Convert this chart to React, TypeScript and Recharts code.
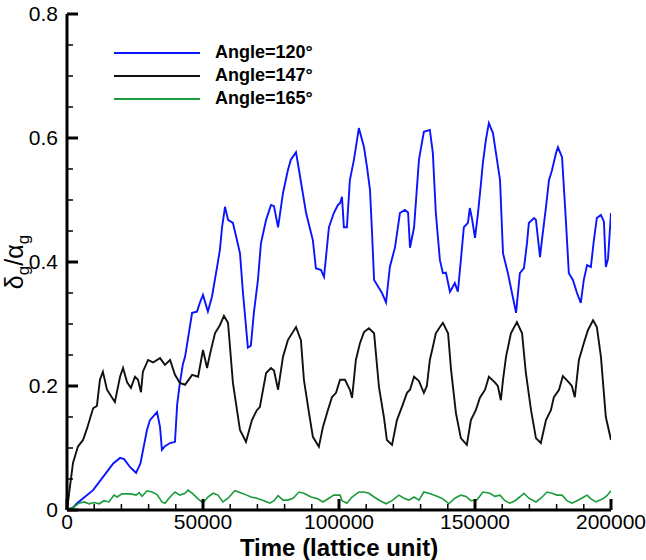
import { LineChart, Line, XAxis, YAxis } from 'recharts';

// Angle = 120°
const blueTime = [
  0, 2000, 3700, 9600, 13200, 17000, 19500, 21000, 23200, 25400, 27000, 29400, 30500, 33100, 34200, 34900,
  36000, 37900, 39700, 40500, 41500, 42600, 43400, 46000, 47800, 48900, 50000, 51800, 53300, 55100, 56200,
  57000, 58100, 59200, 61000, 62500, 63600, 64700, 66500, 67600, 68700, 70200, 71300, 73200, 75000, 76100,
  77600, 79400, 81200, 82300, 84200, 85300, 87900, 90400, 91500, 93400, 94500, 96300, 98100, 99600, 100400,
  101100, 101800, 102900, 104000, 105500, 107300, 109200, 110300, 111400, 112100, 112900, 114700, 115800,
  117300, 118700, 120600, 122400, 124200, 125400, 126100, 127600, 129400, 131200, 133400, 134500, 135600,
  137100, 138200, 139300, 140800, 142600, 143700, 144800, 145900, 147400, 148100, 148900, 150000, 151100,
  152200, 152900, 154000, 155100, 156600, 157700, 159200, 160300, 162100, 163600, 165100, 166500, 168000,
  169100, 169800, 171700, 172400, 173900, 174600, 176100, 177200, 178300, 179800, 180500, 182000, 183400,
  184500, 186000, 187500, 188900, 190000, 191200, 192600, 193700, 194800, 196300, 197400, 198100, 198900, 200000,
];
const blueValue = [
  0, 0.003, 0.011, 0.032, 0.053, 0.075, 0.084, 0.082, 0.069, 0.06, 0.075, 0.129, 0.145, 0.158, 0.134, 0.097,
  0.103, 0.108, 0.11, 0.17, 0.205, 0.235, 0.247, 0.318, 0.32, 0.335, 0.347, 0.32, 0.344, 0.39, 0.419,
  0.456, 0.489, 0.468, 0.463, 0.435, 0.414, 0.35, 0.262, 0.265, 0.318, 0.371, 0.43, 0.468, 0.492, 0.49,
  0.456, 0.511, 0.548, 0.565, 0.577, 0.548, 0.479, 0.435, 0.39, 0.387, 0.376, 0.456, 0.479, 0.492, 0.495,
  0.505, 0.456, 0.456, 0.532, 0.565, 0.616, 0.585, 0.553, 0.516, 0.452, 0.371, 0.358, 0.35,
  0.335, 0.392, 0.424, 0.479, 0.484, 0.48, 0.423, 0.456, 0.565, 0.61, 0.613, 0.576, 0.479,
  0.403, 0.382, 0.383, 0.352, 0.366, 0.352, 0.403, 0.456, 0.463, 0.487, 0.47, 0.439, 0.479,
  0.527, 0.56, 0.597, 0.624, 0.608, 0.576, 0.532, 0.414, 0.382, 0.35, 0.318, 0.382, 0.39,
  0.43, 0.463, 0.471, 0.468, 0.408, 0.435, 0.489, 0.532, 0.548, 0.576, 0.585, 0.569, 0.468,
  0.382, 0.371, 0.35, 0.334, 0.371, 0.395, 0.392, 0.435, 0.471, 0.476, 0.465, 0.392, 0.405, 0.479,
];

// Angle = 147°
const blackTime = [
  0, 2200, 4000, 5900, 7400, 9600, 11000, 12100, 13200, 14700, 17600, 19500, 20600, 22100, 23500, 25000,
  26100, 27200, 27900, 29800, 31600, 34200, 36000, 37900, 39700, 41500, 43400, 46000, 48200, 50000, 51500,
  52600, 54400, 56200, 57700, 59200, 61000, 63600, 65800, 68000, 69800, 70900, 73200, 75000, 76100, 77600,
  79400, 81200, 84200, 86000, 87100, 89000, 90400, 92600, 94100, 95900, 97400, 98900, 100400, 102200,
  104000, 104800, 106200, 107700, 109200, 111000, 112900, 114700, 116500, 117600, 119500, 121300, 123100,
  125000, 126100, 127600, 129400, 131200, 132300, 133400, 134500, 135600, 137100, 138200, 140100, 141200,
  143000, 144800, 147000, 148500, 150300, 151800, 153700, 155100, 157300, 158400, 159500, 160300, 161400,
  163200, 165400, 167300, 168700, 170600, 172400, 174200, 176100, 177900, 179000, 180900, 182300, 184500,
  185600, 186700, 188200, 190000, 191500, 193400, 194800, 196300, 198100, 200000,
];
const blackValue = [
  0, 0.076, 0.102, 0.113, 0.132, 0.164, 0.168, 0.21, 0.223, 0.194, 0.174, 0.215, 0.229, 0.206, 0.197, 0.215,
  0.21, 0.19, 0.223, 0.242, 0.238, 0.245, 0.234, 0.242, 0.218, 0.205, 0.202, 0.218, 0.215, 0.258, 0.229,
  0.252, 0.285, 0.298, 0.313, 0.302, 0.205, 0.129, 0.11, 0.145, 0.161, 0.166, 0.221, 0.229, 0.225, 0.194,
  0.247, 0.274, 0.295, 0.274, 0.21, 0.156, 0.118, 0.102, 0.134, 0.161, 0.182, 0.189, 0.21, 0.21,
  0.194, 0.181, 0.242, 0.269, 0.287, 0.293, 0.285, 0.198, 0.15, 0.113, 0.105, 0.145, 0.166,
  0.189, 0.194, 0.215, 0.208, 0.189, 0.2, 0.242, 0.263, 0.285, 0.295, 0.302, 0.285, 0.226,
  0.156, 0.116, 0.105, 0.145, 0.161, 0.181, 0.194, 0.215, 0.206, 0.2, 0.177, 0.21, 0.247,
  0.285, 0.303, 0.285, 0.221, 0.161, 0.116, 0.108, 0.145, 0.161, 0.182, 0.194, 0.216, 0.206,
  0.2, 0.182, 0.242, 0.269, 0.29, 0.306, 0.295, 0.247, 0.15, 0.113,
];

// Angle = 165°
const greenTime = [
  0, 1000, 2600, 4400, 6300, 8100, 10000, 11800, 13600, 15400, 17300, 18400, 20200, 23500, 25400, 26500,
  27600, 29400, 31300, 33100, 34900, 36000, 37900, 39700, 41500, 43400, 44500, 46300, 48200, 50000, 51800,
  53700, 55500, 57300, 59200, 61700, 64300, 66100, 67600, 69800, 72400, 74600, 76100, 77600, 79400, 81200,
  83100, 85300, 87100, 89700, 92200, 94100, 96300, 98100, 100400, 101100, 102900, 104800, 107300, 109200,
  111000, 112900, 115100, 117300, 119500, 122000, 123900, 125700, 127600, 129400, 131200, 133000, 134800,
  136700, 138200, 140400, 142600, 144800, 146700, 148500, 150700, 152900, 155500, 157300, 159200, 161000,
  162800, 164700, 167300, 168000, 169800, 172400, 174200, 176500, 178300, 180100, 182000, 183800, 185600,
  187500, 190000, 191200, 192600, 194500, 197000, 198500, 200000,
];
const greenValue = [
  0, 0.003, 0.005, 0.011, 0.013, 0.01, 0.012, 0.01, 0.015, 0.013, 0.024, 0.021, 0.026, 0.026, 0.024, 0.028,
  0.022, 0.031, 0.029, 0.025, 0.013, 0.011, 0.021, 0.029, 0.024, 0.027, 0.032, 0.026, 0.018, 0.011, 0.021,
  0.027, 0.024, 0.013, 0.019, 0.031, 0.027, 0.024, 0.021, 0.019, 0.015, 0.011, 0.015, 0.023, 0.016, 0.016,
  0.019, 0.029, 0.027, 0.021, 0.018, 0.013, 0.019, 0.024, 0.024, 0.015, 0.011, 0.021, 0.029, 0.029,
  0.027, 0.021, 0.015, 0.01, 0.015, 0.024, 0.019, 0.016, 0.021, 0.016, 0.029, 0.027, 0.024,
  0.021, 0.018, 0.01, 0.019, 0.024, 0.022, 0.015, 0.016, 0.029, 0.027, 0.022, 0.024, 0.015,
  0.011, 0.015, 0.024, 0.027, 0.019, 0.013, 0.019, 0.029, 0.027, 0.024, 0.024, 0.015, 0.011,
  0.015, 0.021, 0.024, 0.018, 0.013, 0.018, 0.023, 0.031,
];

const seriesNames = ['Angle=120°', 'Angle=147°', 'Angle=165°'];
const seriesColors = ['#0a14ff', '#111111', '#1a9a38'];

const xTicks = [
  0, 10000, 20000, 30000, 40000, 50000, 60000, 70000, 80000, 90000, 100000, 110000, 120000, 130000, 140000,
  150000, 160000, 170000, 180000, 190000, 200000,
];
const xLabels = [0, 50000, 100000, 150000, 200000];
const yTicks = [0, 0.05, 0.1, 0.15, 0.2, 0.25, 0.3, 0.35, 0.4, 0.45, 0.5, 0.55, 0.6, 0.65, 0.7, 0.75, 0.8];
const yLabels = [0, 0.2, 0.4, 0.6, 0.8];

const FONT = '"Liberation Sans", Arial, sans-serif';

const toPoints = (time: number[], value: number[]) => time.map((t, i) => ({ t, v: value[i] }));
const series = [
  toPoints(blueTime, blueValue),
  toPoints(blackTime, blackValue),
  toPoints(greenTime, greenValue),
];

const isLabel = (list: number[], v: number) => list.some((l) => Math.abs(l - v) < 1e-9);

// ticks point into the plot area; only major ticks carry a label
const XTick = (props: any) => {
  const { x, y, payload } = props;
  const major = isLabel(xLabels, payload.value);
  return (
    <g>
      <line x1={x} y1={y} x2={x} y2={y - (major ? 11 : 6)} stroke="#000" strokeWidth={major ? 3 : 1.5} />
      {major && (
        <text x={x} y={y + 19} textAnchor="middle" fontSize={21} fontFamily={FONT} fill="#000">
          {payload.value}
        </text>
      )}
    </g>
  );
};

const YTick = (props: any) => {
  const { x, y, payload } = props;
  const major = isLabel(yLabels, payload.value);
  return (
    <g>
      <line x1={x} y1={y} x2={x + (major ? 11 : 6)} y2={y} stroke="#000" strokeWidth={major ? 3 : 1.5} />
      {major && (
        <text x={x - 9} y={y + 7} textAnchor="end" fontSize={21} fontFamily={FONT} fill="#000">
          {String(Math.round(payload.value * 10) / 10)}
        </text>
      )}
    </g>
  );
};

const YTitle = () => (
  <text transform="translate(23,262) rotate(-90)" textAnchor="middle" fontSize={25} fontFamily={FONT} fill="#000">
    δ
    <tspan dy={6} fontSize={17}>g</tspan>
    <tspan dy={-6}>/α</tspan>
    <tspan dy={6} fontSize={17}>g</tspan>
  </text>
);

const XTitle = () => (
  <text x={339} y={556} textAnchor="middle" fontSize={24} fontWeight="bold" fontFamily={FONT} fill="#000">
    Time (lattice unit)
  </text>
);

const LegendBox = () => (
  <div style={{ position: 'absolute', left: 114, top: 41, fontFamily: FONT }}>
    {seriesNames.map((name, i) => (
      <div key={name} style={{ display: 'flex', alignItems: 'center', height: 23 }}>
        <svg width={86} height={4} style={{ display: 'block' }}>
          <line x1={0} y1={2} x2={86} y2={2} stroke={seriesColors[i]} strokeWidth={2} />
        </svg>
        <span style={{ marginLeft: 15, fontSize: 18, fontWeight: 'bold', color: '#000', whiteSpace: 'nowrap' }}>
          {name}
        </span>
      </div>
    ))}
  </div>
);

export default function App() {
  return (
    <div style={{ position: 'absolute', left: 0, top: 0, width: 646, height: 560, background: '#fff' }}>
      <LineChart width={646} height={560} margin={{ top: 14, right: 35, bottom: 0, left: 0 }}>
        <XAxis
          dataKey="t"
          type="number"
          domain={[0, 200000]}
          ticks={xTicks}
          interval={0}
          tickSize={0}
          tickMargin={0}
          tickLine={false}
          tick={<XTick />}
          height={50}
          axisLine={{ stroke: '#000', strokeWidth: 3 }}
          allowDataOverflow
          label={{ content: <XTitle /> }}
        />
        <YAxis
          type="number"
          domain={[0, 0.8]}
          ticks={yTicks}
          interval={0}
          tickSize={0}
          tickMargin={0}
          tickLine={false}
          tick={<YTick />}
          width={67}
          axisLine={{ stroke: '#000', strokeWidth: 3 }}
          allowDataOverflow
          label={{ content: <YTitle /> }}
        />
        {series.map((data, i) => (
          <Line
            key={seriesNames[i]}
            data={data}
            dataKey="v"
            name={seriesNames[i]}
            type="linear"
            stroke={seriesColors[i]}
            strokeWidth={i === 2 ? 1.6 : 1.9}
            dot={false}
            activeDot={false}
            isAnimationActive={false}
          />
        ))}
      </LineChart>
      <LegendBox />
    </div>
  );
}
